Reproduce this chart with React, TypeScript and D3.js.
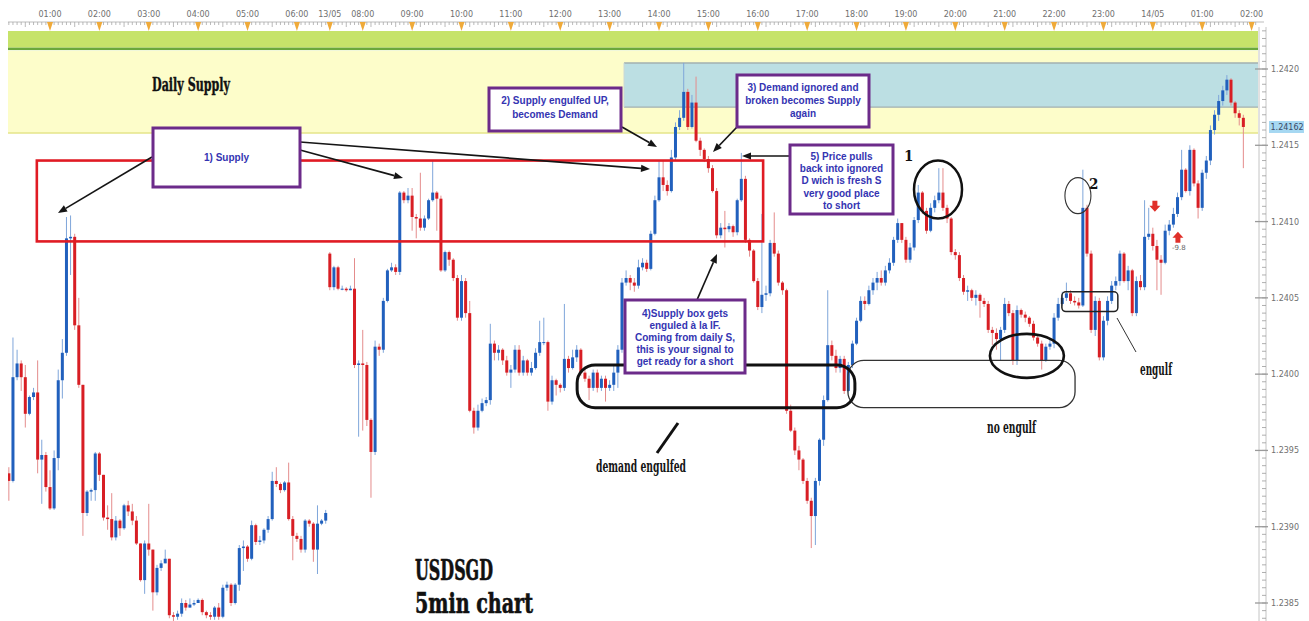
import React from "react";
import * as d3 from "d3";

// ---------- DATA ----------
// time axis labels and the 5-minute candle index at which they sit
const timeLabels = ["01:00","02:00","03:00","04:00","05:00","06:00","13/05","08:00","09:00","10:00","11:00","12:00","13:00","14:00","15:00","16:00","17:00","18:00","19:00","20:00","21:00","22:00","23:00","14/05","01:00","02:00"];
const timeIndex = [0,12,24,36,48,60,68,76,88,100,112,124,136,148,160,172,184,196,208,220,232,244,256,268,280,292];

const priceLabels = [1.2385, 1.239, 1.2395, 1.24, 1.2405, 1.241, 1.2415, 1.242];
const lastPrice = 1.24162;
const basePrice = 1.238; // candle values below are pips above this price

// Session A (before the 13/05 gap)
const startA = -10;
const openA = 13.5;
const closesA = [13.0,19.8,20.7,19.8,17.4,18.5,18.8,14.4,14.7,12.6,11.2,14.5,19.6,21.4,28.9,29.0,23.2,19.3,10.9,12.3,12.4,14.8,13.4,10.6,10.5,9.3,10.4,9.9,11.4,11.0,10.4,8.9,6.5,8.9,8.5,5.7,7.3,7.6,7.9,4.2,4.1,4.3,5.0,4.7,4.9,5.0,5.2,4.4,4.2,4.1,4.7,4.1,6.0,6.2,5.0,6.2,8.6,8.7,7.9,10.1,9.0,9.1,9.8,10.5,13.0,12.8,12.4,12.9,10.5,9.4,9.2,8.5,10.4,10.2,8.5,10.2,10.4,10.9];
const highsA = [13.9,22.4,21.6,20.9,20.6,18.6,19.1,20.9,15.7,14.9,13.7,15.0,20.3,22.3,30.3,30.4,29.2,25.0,19.3,12.4,12.5,14.9,14.9,13.4,11.4,12.2,10.7,10.5,11.5,11.7,11.5,10.7,8.9,9.1,11.5,8.5,7.5,7.8,8.5,7.9,4.4,4.5,5.3,5.2,5.3,5.2,5.3,5.3,4.5,4.4,4.8,5.0,6.2,6.4,6.3,6.3,8.8,9.1,8.8,10.4,10.2,9.4,9.9,10.7,13.6,13.9,12.9,13.0,14.2,10.7,9.6,9.4,10.5,10.5,10.3,11.4,10.5,11.1];
const lowsA = [11.7,12.9,19.6,18.9,16.5,17.3,18.3,13.5,11.5,12.3,11.1,11.1,13.7,18.4,21.2,26.5,22.9,19.1,9.4,10.7,11.7,11.7,13.0,10.4,9.8,9.1,9.1,9.4,9.8,10.7,10.1,8.8,6.4,5.6,8.1,4.5,5.5,7.1,7.6,4.0,3.8,3.9,4.1,4.5,4.7,4.8,5.0,4.2,4.0,3.9,3.9,3.9,4.0,5.8,4.8,4.9,5.8,7.1,7.7,7.8,8.8,8.8,8.9,9.6,10.4,12.6,12.2,12.3,10.4,7.8,9.0,8.3,8.3,10.0,7.7,6.9,10.1,10.2];

// Session B (from 13/05 on)
const startB = 68;
const openB = 27.9;
const closesB = [
25.7,27.0,25.6,25.6,25.5,25.6,20.6,20.7,20.6,17.0,
14.9,21.8,21.6,24.8,26.8,27.0,26.7,31.9,31.4,31.7,
30.3,30.2,29.6,30.2,31.4,31.9,31.5,26.8,28.0,27.5,
26.3,23.7,26.1,24.0,17.6,16.5,17.6,18.1,18.3,22.0,
21.4,21.6,20.9,20.1,20.3,21.6,20.1,20.9,20.1,20.4,
21.4,22.1,22.1,18.2,19.6,19.3,19.1,21.0,20.4,21.1,
21.6,20.1,19.7,19.1,20.1,19.1,19.7,19.1,19.3,20.1,
21.6,26.0,26.3,26.0,25.8,27.0,27.3,26.9,29.2,31.4,
32.9,32.4,32.0,34.2,36.2,36.8,38.5,36.2,37.8,35.3,
34.7,34.1,33.5,32.0,29.1,29.6,29.5,29.7,29.3,31.4,
32.8,28.8,28.1,26.1,24.4,25.2,25.3,28.6,27.9,26.0,
25.5,17.6,16.3,15.0,14.4,13.0,11.7,10.7,13.0,15.7,
18.3,21.9,21.2,20.4,21.0,18.9,20.6,22.0,23.5,24.8,
24.6,25.5,26.0,26.3,26.0,26.8,27.3,28.8,29.9,28.8,
27.5,28.3,30.1,31.9,30.7,29.4,30.9,31.4,31.9,30.9,
30.2,28.0,27.8,26.3,25.4,25.5,25.0,25.2,24.8,24.6,
22.9,22.7,22.3,22.9,24.6,24.0,20.9,24.2,23.9,23.7,
23.3,22.4,22.0,20.9,21.8,22.0,23.7,24.6,25.0,25.3,
24.8,24.7,24.5,30.9,27.9,22.9,24.8,21.1,23.5,24.8,
25.8,26.1,27.9,26.1,26.8,24.0,26.1,25.7,29.0,29.2,
28.4,27.5,27.3,29.4,29.8,30.5,31.6,33.4,32.0,34.7,
32.5,30.9,33.2,34.0,36.0,37.0,37.9,38.6,39.3,37.8,
37.1,36.8,36.2];
const highsB = [
28.0,27.1,27.1,25.8,25.7,25.8,27.6,20.9,22.9,20.8,
17.1,22.2,22.0,25.0,26.9,27.3,27.2,32.0,32.0,32.2,
32.2,30.5,33.2,30.4,31.5,34.0,32.0,31.7,28.1,28.1,
27.6,26.5,26.5,26.3,24.8,17.8,18.0,18.4,18.5,23.3,
22.2,21.9,21.7,21.2,20.6,21.9,21.9,21.2,21.0,20.8,
21.7,23.5,23.7,22.2,19.9,19.7,19.4,24.6,21.2,21.6,
21.9,21.7,20.4,19.9,20.3,20.3,19.9,19.9,19.6,20.6,
21.9,26.3,26.8,26.5,26.3,27.5,27.6,27.5,29.4,31.7,
34.0,34.0,32.7,34.7,36.5,37.3,40.4,38.7,38.3,39.5,
35.5,34.8,34.3,33.7,32.2,29.9,30.7,29.9,29.8,31.5,
34.5,33.0,28.9,28.2,26.3,30.5,25.8,28.8,30.6,28.1,
26.1,25.6,18.0,16.5,15.3,14.5,13.2,11.9,13.2,15.8,
18.6,25.5,22.2,21.6,21.2,21.2,20.8,22.2,23.7,25.1,
25.1,25.8,26.3,26.7,26.8,27.1,27.6,29.0,30.2,29.9,
29.0,28.6,30.3,32.4,32.0,30.9,31.2,31.7,33.5,33.5,
31.1,30.3,28.2,28.0,26.5,25.8,25.6,25.5,25.3,25.0,
24.8,23.1,23.0,23.1,25.0,24.8,24.2,24.5,24.3,24.1,
23.8,23.5,22.5,22.2,22.0,22.3,24.0,25.0,25.4,26.0,
25.5,25.1,25.0,33.4,31.1,28.1,25.1,25.0,23.8,25.1,
26.1,26.4,28.1,28.0,27.1,26.9,26.4,26.5,31.4,30.9,
29.6,28.8,27.8,29.8,30.1,30.9,31.9,34.7,33.5,35.0,
34.8,32.7,33.4,34.3,36.3,37.3,38.3,38.9,39.6,39.4,
37.9,37.3,37.0];
const lowsB = [
25.5,25.5,25.5,25.5,25.4,25.5,20.4,15.9,16.3,16.6,
11.9,14.7,21.2,21.4,24.7,26.7,26.5,26.5,31.2,31.2,
29.4,28.9,29.4,29.4,30.1,31.3,29.4,26.7,26.7,27.1,
26.1,23.5,23.5,23.7,17.5,16.1,16.3,17.5,17.9,18.0,
20.9,20.9,20.6,19.9,19.1,20.1,19.9,19.9,19.9,19.9,
20.3,21.2,21.9,17.6,18.0,18.6,18.8,18.9,20.1,20.3,
20.8,19.9,19.5,18.3,18.9,18.8,18.9,18.2,18.9,18.9,
19.1,21.4,25.8,25.5,25.4,25.6,26.8,26.7,26.8,29.1,
31.3,32.0,31.7,31.9,34.0,36.0,36.6,36.0,36.1,35.2,
34.3,33.9,33.2,31.9,28.9,28.9,28.3,29.3,29.0,29.1,
31.3,28.6,27.7,26.0,24.2,24.0,24.8,25.1,27.7,25.8,
25.2,17.4,16.2,14.7,13.7,12.8,11.5,8.6,8.8,12.7,
15.3,18.2,20.9,20.1,20.1,18.7,18.8,20.4,21.9,23.4,
24.2,24.5,25.2,25.5,25.8,25.8,26.6,27.1,28.6,28.6,
27.3,27.3,28.1,29.9,30.5,29.2,29.3,30.6,31.2,30.7,
29.9,27.8,27.5,26.1,25.2,24.8,24.8,24.5,23.7,24.4,
22.7,21.9,21.6,20.9,22.7,23.8,20.6,20.6,23.7,23.4,
23.1,22.2,21.8,20.3,20.8,21.6,21.7,23.5,24.5,24.8,
24.6,24.5,24.3,24.4,27.7,22.7,22.5,20.9,20.9,23.2,
24.6,25.5,25.8,26.0,25.5,23.8,23.8,25.5,25.5,28.8,
28.1,25.5,25.2,27.2,29.1,29.6,30.3,31.4,31.9,31.7,
32.3,30.2,30.7,32.8,33.7,35.7,36.6,37.6,38.3,37.6,
36.8,36.3,33.5];

// zones / drawn shapes, in (candle index, price)
const greenZoneBottom = 1.24214;
const dailySupply = { top: 1.24212, bottom: 1.24158 };
const blueZone = { from: 139.5, top: 1.24204, bottom: 1.24175 };
const supplyBox = { from: -3.2, to: 173.3, top: 1.2414, bottom: 1.24087 };
const demandBox = { from: 128.1, to: 195.6, top: 1.24006, bottom: 1.23978 };
const noEngulfBox = { from: 193.9, to: 249.1, top: 1.24009, bottom: 1.23978 };
const engulfBox = { from: 245.9, to: 259.5, top: 1.24054, bottom: 1.24041 };
const circle1 = { i: 215.8, p: 1.24121 };
const circleLows = { i: 237.4, p: 1.24012 };
const circle2 = { i: 249.8, p: 1.24117 };
const sellMarker = { i: 268.5, p: 1.24109 };
const buyMarker = { i: 274.1, p: 1.2409, label: "-9.8" };

// ---------- LAYOUT ----------
const W = 1309, H = 621;
const PL = 8, PR = 1258, PT = 31;
const STEP = 4.115;

const callouts = [
  { x: 153, y: 128, w: 147, h: 59, y0: 161, lh: 12, lines: ["1) Supply"] },
  { x: 489, y: 88, w: 132, h: 43, y0: 104, lh: 14, lines: ["2) Supply engulfed UP,", "becomes Demand"] },
  { x: 737, y: 75, w: 132, h: 52, y0: 91, lh: 13, lines: ["3) Demand ignored and", "broken becomes Supply", "again"] },
  { x: 790, y: 145, w: 103, h: 69, y0: 160, lh: 12.2, lines: ["5) Price pulls", "back into ignored", "D wich is fresh S", "very good place", "to short"] },
  { x: 625, y: 300, w: 120, h: 73, y0: 316.5, lh: 12.2, lines: ["4)Supply box gets", "enguled à la IF.", "Coming from daily S,", "this is your signal to", "get ready for a short"] },
];
const arrows = [
  [152, 157, 58, 213], [300, 142, 650, 169], [300, 150, 403, 178],
  [622, 127, 657, 147], [737, 127, 713, 152], [790, 156, 742, 156], [697, 300, 717, 254],
];

function Arrow({ a }: { a: number[] }) {
  const [x1, y1, x2, y2] = a;
  const ang = Math.atan2(y2 - y1, x2 - x1);
  const L = 9, w = 3.6;
  const bx = x2 - L * Math.cos(ang), by = y2 - L * Math.sin(ang);
  const p1 = [bx + w * Math.sin(ang), by - w * Math.cos(ang)];
  const p2 = [bx - w * Math.sin(ang), by + w * Math.cos(ang)];
  return (
    <g>
      <line x1={x1} y1={y1} x2={bx} y2={by} stroke="#151515" strokeWidth={1.7} />
      <polygon points={`${x2},${y2} ${p1[0]},${p1[1]} ${p2[0]},${p2[1]}`} fill="#151515" />
    </g>
  );
}

const serif = "'DejaVu Serif Condensed', 'DejaVu Serif', serif";

export default function App() {
  const x = d3.scaleLinear().domain([0, 292]).range([50, 50 + 292 * STEP]);
  const y = d3.scaleLinear().domain([1.2385, 1.242]).range([603, 69]);
  const toP = (v: number) => basePrice + v / 10000;

  const build = (start: number, open: number, cl: number[], hi: number[], lo: number[]) => {
    let prev = open;
    return cl.map((c, k) => {
      const o = prev;
      prev = c;
      return { i: start + k, o: toP(o), c: toP(c), h: toP(Math.max(hi[k], o, c)), l: toP(Math.min(lo[k], o, c)) };
    });
  };
  const candles = [...build(startA, openA, closesA, highsA, lowsA), ...build(startB, openB, closesB, highsB, lowsB)];

  const minorTicks = d3.range(-10, 294);
  const priceMinor = d3.range(Math.ceil(1.2383 / 0.00005), Math.floor(1.24225 / 0.00005) + 1).map((k) => k * 0.00005);

  const rectOf = (b: { from: number; to?: number; top: number; bottom: number }, toX?: number) => ({
    x: x(b.from), y: y(b.top), w: (toX ?? x(b.to as number)) - x(b.from), h: y(b.bottom) - y(b.top),
  });
  const sb = rectOf(supplyBox), db = rectOf(demandBox), nb = rectOf(noEngulfBox), eb = rectOf(engulfBox), bz = rectOf(blueZone, PR);

  return (
    <svg width={W} height={H} style={{ position: "absolute", left: 0, top: 0, background: "#fff" }} fontFamily="'DejaVu Sans', sans-serif">
      <defs>
        <clipPath id="plot"><rect x={PL} y={PT} width={PR - PL} height={H - PT} /></clipPath>
      </defs>
      <rect x={0} y={0} width={W} height={H} fill="#fff" />

      {/* zones */}
      <rect x={PL} y={PT} width={PR - PL} height={y(greenZoneBottom) - PT} fill="#c6e36a" />
      <rect x={PL} y={y(greenZoneBottom)} width={PR - PL} height={2.5} fill="#6aa83c" />
      <rect x={PL} y={y(dailySupply.top)} width={PR - PL} height={y(dailySupply.bottom) - y(dailySupply.top)} fill="#fdfdca" />
      <line x1={PL} x2={PR} y1={y(dailySupply.bottom)} y2={y(dailySupply.bottom)} stroke="#e4e48a" strokeWidth={1.5} />
      <rect x={bz.x} y={bz.y} width={bz.w} height={bz.h} fill="#bcdfe3" />
      <line x1={bz.x} x2={PR + 8} y1={bz.y} y2={bz.y} stroke="#a3b0b0" strokeWidth={1.5} />
      <line x1={bz.x} x2={PR + 8} y1={bz.y + bz.h} y2={bz.y + bz.h} stroke="#a3b0b0" strokeWidth={1.2} />
      <line x1={bz.x} x2={bz.x} y1={bz.y} y2={bz.y + bz.h} stroke="#c9d6d6" strokeWidth={1} />

      {/* top time ruler */}
      <line x1={PL} x2={PR + 6} y1={22} y2={22} stroke="#bdbdbd" />
      {minorTicks.map((i) => (
        <line key={"mt" + i} x1={x(i)} x2={x(i)} y1={22} y2={i % 6 === 0 ? 27 : 25} stroke="#a8a8a8" strokeWidth={0.8} />
      ))}
      {timeIndex.map((i, k) => (
        <g key={"tl" + k}>
          <path d={`M${x(i) - 3},22 L${x(i) + 3},22 L${x(i)},31 Z`} fill="#efaa3a" />
          <text x={x(i)} y={17} fontSize={8} fill="#6f6f6f" textAnchor="middle">{timeLabels[k]}</text>
        </g>
      ))}

      {/* candles */}
      <g clipPath="url(#plot)">
        {candles.map((d) => {
          const up = d.c >= d.o;
          const cx = x(d.i);
          const top = y(Math.max(d.o, d.c)), bot = y(Math.min(d.o, d.c));
          return (
            <g key={"c" + d.i}>
              <line x1={cx} x2={cx} y1={y(d.h)} y2={y(d.l)} stroke={up ? "#7fa6da" : "#e48c8c"} strokeWidth={1} />
              <rect x={cx - 1.5} y={top} width={3} height={Math.max(1, bot - top)} fill={up ? "#2160bd" : "#d81e24"} />
            </g>
          );
        })}
      </g>

      {/* right price axis */}
      <rect x={PR} y={PT - 2} width={W - PR} height={H} fill="#fff" />
      <line x1={PR + 1} x2={PR + 1} y1={PT - 4} y2={H} stroke="#c4c4c4" />
      <line x1={PR + 8} x2={PR + 8} y1={PT - 4} y2={H} stroke="#c4c4c4" />
      {priceMinor.map((p, k) => (
        <line key={"pm" + k} x1={PR + 4} x2={PR + 8} y1={y(p)} y2={y(p)} stroke="#9a9a9a" strokeWidth={0.8} />
      ))}
      {priceLabels.map((p) => (
        <g key={"pl" + p}>
          <line x1={PR - 3} x2={PR + 10} y1={y(p)} y2={y(p)} stroke="#9a9a9a" strokeWidth={1.3} />
          <text x={PR + 13} y={y(p) + 3} fontSize={8} fill="#707070">{p.toFixed(4)}</text>
        </g>
      ))}
      <rect x={PR + 11} y={y(lastPrice) - 6} width={35} height={12} fill="#a6d8f2" />
      <text x={PR + 12.5} y={y(lastPrice) + 3} fontSize={8} fill="#3a4a66">{lastPrice.toFixed(5)}</text>

      {/* red supply box */}
      <rect x={sb.x} y={sb.y} width={sb.w} height={sb.h} fill="none" stroke="#e01b24" strokeWidth={2.6} />

      {/* demand engulfed & no engulf shapes */}
      <rect x={nb.x} y={nb.y} width={nb.w} height={nb.h} rx={16} fill="none" stroke="#333" strokeWidth={1.3} />
      <rect x={db.x} y={db.y} width={db.w} height={db.h} rx={18} fill="none" stroke="#111" strokeWidth={3} />
      <rect x={eb.x} y={eb.y} width={eb.w} height={eb.h} rx={4} fill="none" stroke="#222" strokeWidth={1.5} />
      <ellipse cx={x(circle1.i)} cy={y(circle1.p)} rx={24} ry={29} fill="none" stroke="#111" strokeWidth={2.5} />
      <ellipse cx={x(circleLows.i)} cy={y(circleLows.p)} rx={37} ry={22} fill="none" stroke="#111" strokeWidth={2.6} />
      <ellipse cx={x(circle2.i)} cy={y(circle2.p)} rx={13} ry={18} fill="none" stroke="#333" strokeWidth={1.1} />

      {/* markers */}
      <path transform={`translate(${x(sellMarker.i)},${y(sellMarker.p)})`} d="M-2.5,-7 h5 v5 h3 l-5.5,6 l-5.5,-6 h3 z" fill="#e0302a" />
      <path transform={`translate(${x(buyMarker.i)},${y(buyMarker.p)})`} d="M-2.5,6 h5 v-5 h3 l-5.5,-6 l-5.5,6 h3 z" fill="#e0302a" />
      <text x={x(buyMarker.i) + 1} y={y(buyMarker.p) + 13} fontSize={7} fill="#666" textAnchor="middle">{buyMarker.label}</text>

      {/* plain lines */}
      <line x1={678} y1={423} x2={657} y2={453} stroke="#111" strokeWidth={3} />
      <line x1={1117} y1={318} x2={1136} y2={352} stroke="#333" strokeWidth={1} />

      {/* arrows */}
      {arrows.map((a, k) => <Arrow key={"a" + k} a={a} />)}

      {/* callout boxes */}
      {callouts.map((c, k) => (
        <g key={"co" + k}>
          <rect x={c.x} y={c.y} width={c.w} height={c.h} fill="#fff" stroke="#6c2b8a" strokeWidth={3} />
          {c.lines.map((t, j) => (
            <text key={j} x={c.x + c.w / 2} y={c.y0 + j * c.lh} fontSize={10} fontWeight="bold"
              fontFamily="'Liberation Sans', Arial, sans-serif" fill="#3434b2" textAnchor="middle">{t}</text>
          ))}
        </g>
      ))}

      {/* hand-written style labels */}
      <text x={152} y={91} fontSize={18} fontWeight="bold" fontFamily={serif} fill="#111" stroke="#111" strokeWidth={0.4} textLength={78} lengthAdjust="spacingAndGlyphs">Daily Supply</text>
      <text x={596} y={472} fontSize={16} fontWeight="bold" fontFamily={serif} fill="#151515" textLength={90} lengthAdjust="spacingAndGlyphs">demand engulfed</text>
      <text x={987} y={433} fontSize={16} fontWeight="bold" fontFamily={serif} fill="#151515" textLength={49} lengthAdjust="spacingAndGlyphs">no engulf</text>
      <text x={1140} y={375} fontSize={16} fontWeight="bold" fontFamily={serif} fill="#151515" textLength={32} lengthAdjust="spacingAndGlyphs">engulf</text>
      <text x={904} y={161} fontSize={15} fontFamily={serif} fontWeight="bold" fill="#111">1</text>
      <text x={1089} y={189} fontSize={15} fontFamily={serif} fontWeight="bold" fill="#111">2</text>
      <text x={415} y={580} fontSize={28} fontWeight="bold" fontFamily={serif} fill="#111" stroke="#111" strokeWidth={0.6} textLength={78} lengthAdjust="spacingAndGlyphs">USDSGD</text>
      <text x={415} y={613} fontSize={28} fontWeight="bold" fontFamily={serif} fill="#111" stroke="#111" strokeWidth={0.6} textLength={118} lengthAdjust="spacingAndGlyphs">5min chart</text>
    </svg>
  );
}
